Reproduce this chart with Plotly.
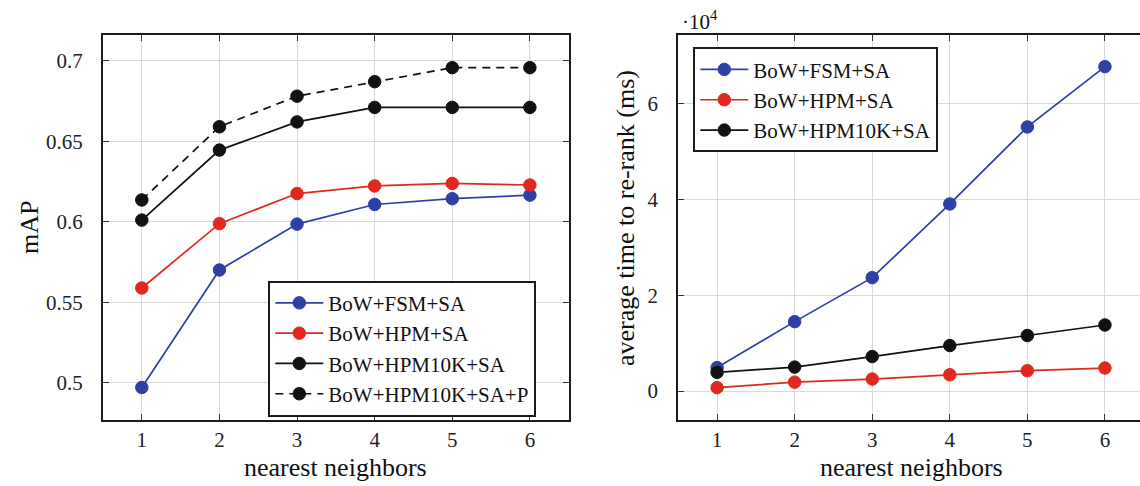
import plotly.graph_objects as go

# nearest-neighbour counts (shared x axis of both panels)
neighbors = [1, 2, 3, 4, 5, 6]

# mAP per method
map_fsm = [0.497, 0.570, 0.5985, 0.6107, 0.6143, 0.6165]
map_hpm = [0.5588, 0.5988, 0.6175, 0.6222, 0.6238, 0.6228]
map_hpm10k = [0.601, 0.6445, 0.662, 0.671, 0.671, 0.671]
map_hpm10k_p = [0.6135, 0.659, 0.678, 0.687, 0.6957, 0.6957]

# average re-rank time in ms
time_fsm = [4900, 14500, 23700, 39100, 55200, 67800]
time_hpm = [700, 1850, 2500, 3400, 4250, 4800]
time_hpm10k = [3900, 5000, 7200, 9500, 11600, 13800]

map_ticks = [0.5, 0.55, 0.6, 0.65, 0.7]
map_tick_text = ["0.5", "0.55", "0.6", "0.65", "0.7"]
time_ticks = [0, 20000, 40000, 60000]
time_tick_text = ["0", "2", "4", "6"]

BLUE = "#2e40a6"
RED = "#e0281f"
BLACK = "#111111"
FONT = "Liberation Serif, Times New Roman, serif"
W, H = 1140, 486

fig = go.Figure()


def add_series(x, y, name, color, xa, ya, legend, dash="solid"):
    fig.add_trace(go.Scatter(
        x=x, y=y, name=name, mode="lines+markers",
        xaxis=xa, yaxis=ya, legend=legend,
        line=dict(color=color, width=1.7, dash=dash),
        marker=dict(symbol="circle", size=12.5, color=color,
                    line=dict(color=color, width=1)),
    ))


add_series(neighbors, map_fsm, "BoW+FSM+SA", BLUE, "x", "y", "legend")
add_series(neighbors, map_hpm, "BoW+HPM+SA", RED, "x", "y", "legend")
add_series(neighbors, map_hpm10k, "BoW+HPM10K+SA", BLACK, "x", "y", "legend")
add_series(neighbors, map_hpm10k_p, "BoW+HPM10K+SA+P", BLACK, "x", "y", "legend",
           dash="8px,6px")

add_series(neighbors, time_fsm, "BoW+FSM+SA", BLUE, "x2", "y2", "legend2")
add_series(neighbors, time_hpm, "BoW+HPM+SA", RED, "x2", "y2", "legend2")
add_series(neighbors, time_hpm10k, "BoW+HPM10K+SA", BLACK, "x2", "y2", "legend2")


def axis_style():
    return dict(
        showgrid=True, gridcolor="#d9d9d9", gridwidth=1,
        showline=True, linecolor="#1a1a1a", linewidth=2,
        ticks="inside", ticklen=6, tickwidth=1, tickcolor="#333333",
        zeroline=False,
        tickfont=dict(family=FONT, size=21, color="#222222"),
    )


def px_x(v):
    return v / W


def px_y(v):
    return 1 - v / H


def legend_style(width):
    return dict(
        xanchor="left", yanchor="top",
        bgcolor="white", bordercolor="#1a1a1a", borderwidth=2,
        font=dict(family=FONT, size=21, color="#111111"),
        itemwidth=48, tracegroupgap=0,
        entrywidth=width, entrywidthmode="pixels",
    )


fig.update_layout(
    width=W, height=H,
    margin=dict(l=0, r=0, t=0, b=0),
    paper_bgcolor="white", plot_bgcolor="white",
    font=dict(family=FONT, size=21, color="#111111"),
    xaxis=dict(domain=[px_x(103), px_x(568.7)], range=[0.5, 6.5],
               tickvals=neighbors, mirror="ticks", anchor="y",
               ticklabelstandoff=0, **axis_style()),
    yaxis=dict(domain=[px_y(420), px_y(35)], range=[0.4768, 0.716],
               tickvals=map_ticks, ticktext=map_tick_text, mirror="ticks",
               anchor="x", ticklabelstandoff=14, **axis_style()),
    xaxis2=dict(domain=[px_x(678.3), 1.0], range=[0.5, 6.452],
                tickvals=neighbors, mirror="ticks", anchor="y2",
                ticklabelstandoff=0, **axis_style()),
    yaxis2=dict(domain=[px_y(419.5), px_y(35)], range=[-5956, 74420],
                tickvals=time_ticks, ticktext=time_tick_text, mirror=False,
                anchor="x2", ticklabelstandoff=14, **axis_style()),
    legend=dict(x=px_x(268.3), y=px_y(280.7), **legend_style(222)),
    legend2=dict(x=px_x(693.3), y=px_y(47.3), **legend_style(200)),
    showlegend=True,
)

title_font = dict(family=FONT, size=26, color="#111111")


def label(text, x, y, angle=0, font=title_font, xanchor="center"):
    fig.add_annotation(text=text, x=px_x(x), y=px_y(y), xref="paper", yref="paper",
                       xanchor=xanchor, yanchor="middle", textangle=angle,
                       showarrow=False, font=font)


label("mAP", 29, 228, angle=-90)
label("average time to re-rank (ms)", 625, 218, angle=-90)
label("nearest neighbors", 336, 467)
label("nearest neighbors", 911, 467)
label("·10<sup>4</sup>", 680, 20, xanchor="left",
      font=dict(family=FONT, size=21, color="#111111"))

fig.write_html("out.html")
